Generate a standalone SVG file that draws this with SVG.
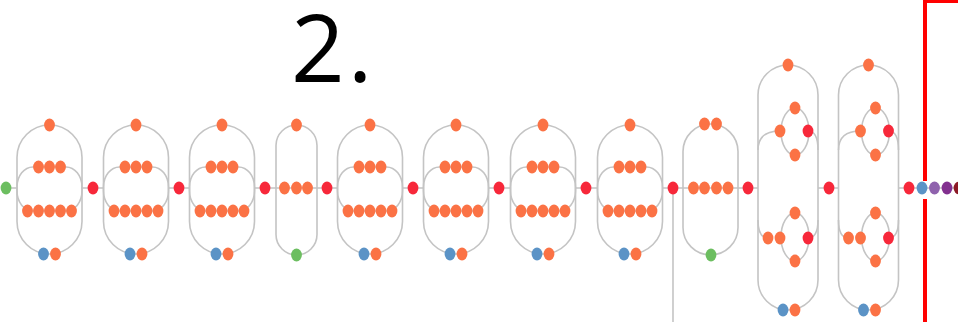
<svg xmlns="http://www.w3.org/2000/svg" width="958" height="322" viewBox="0 0 958 322">
  <style>
    .edge { fill: none; stroke: #c4c4c4; stroke-width: 1.6; }
    .frame { fill: none; stroke: #ff0000; stroke-width: 4; }
    .o { fill: #fb7245; }
    .r { fill: #f7283a; }
    .b { fill: #5b93c6; }
    .g { fill: #6cbe60; }
    .p1 { fill: #8f62ad; }
    .p2 { fill: #82308f; }
    .dr { fill: #8c1a26; }
    .o, .r, .b, .g, .p1, .p2, .dr { rx: 5.4px; ry: 6.4px; }
    .title { font-family: "Open Sans", "Noto Sans", "Liberation Sans", sans-serif; font-size: 94px; fill: #000; }
  </style>

  <text class="title" x="291" y="82" letter-spacing="3">2.</text>

  <!-- connectors -->
  <g id="connectors">
    <path class="edge" d="M6 188H17 M81 188H104 M168 188H190 M254 188H276 M276 188H317 M317 188H338 M402 188H424 M488 188H511 M575 188H598 M662 188H683 M683 188H738 M738 188H758 M818 188H839 M898 188H958"/>
    <path class="edge" d="M673 188V322"/>
  </g>

  <!-- block 1 -->
  <g id="block1" transform="translate(49.5,0)">
    <path class="edge" d="M-32.5 157.5A32.5 32.5 0 0 1 32.5 157.5V221.5A32.5 32.5 0 0 1 -32.5 221.5Z"/>
    <rect class="edge" x="-32.5" y="167" width="65" height="44" rx="16" ry="20"/>
    <ellipse class="o" cx="0" cy="125" rx="5" ry="6"/>
    <ellipse class="o" cx="-11" cy="167" rx="5" ry="6"/><ellipse class="o" cx="0" cy="167" rx="5" ry="6"/><ellipse class="o" cx="11" cy="167" rx="5" ry="6"/>
    <ellipse class="o" cx="-22" cy="211" rx="5" ry="6"/><ellipse class="o" cx="-11" cy="211" rx="5" ry="6"/><ellipse class="o" cx="0" cy="211" rx="5" ry="6"/><ellipse class="o" cx="11" cy="211" rx="5" ry="6"/><ellipse class="o" cx="22" cy="211" rx="5" ry="6"/>
    <ellipse class="b" cx="-6" cy="254" rx="5" ry="6"/><ellipse class="o" cx="6" cy="254" rx="5" ry="6"/>
  </g>

  <!-- block 2 -->
  <g id="block2" transform="translate(136,0)">
    <path class="edge" d="M-32.5 157.5A32.5 32.5 0 0 1 32.5 157.5V221.5A32.5 32.5 0 0 1 -32.5 221.5Z"/>
    <rect class="edge" x="-32.5" y="167" width="65" height="44" rx="16" ry="20"/>
    <ellipse class="o" cx="0" cy="125" rx="5" ry="6"/>
    <ellipse class="o" cx="-11" cy="167" rx="5" ry="6"/><ellipse class="o" cx="0" cy="167" rx="5" ry="6"/><ellipse class="o" cx="11" cy="167" rx="5" ry="6"/>
    <ellipse class="o" cx="-22" cy="211" rx="5" ry="6"/><ellipse class="o" cx="-11" cy="211" rx="5" ry="6"/><ellipse class="o" cx="0" cy="211" rx="5" ry="6"/><ellipse class="o" cx="11" cy="211" rx="5" ry="6"/><ellipse class="o" cx="22" cy="211" rx="5" ry="6"/>
    <ellipse class="b" cx="-6" cy="254" rx="5" ry="6"/><ellipse class="o" cx="6" cy="254" rx="5" ry="6"/>
  </g>

  <!-- block 3 -->
  <g id="block3" transform="translate(222,0)">
    <path class="edge" d="M-32.5 157.5A32.5 32.5 0 0 1 32.5 157.5V221.5A32.5 32.5 0 0 1 -32.5 221.5Z"/>
    <rect class="edge" x="-32.5" y="167" width="65" height="44" rx="16" ry="20"/>
    <ellipse class="o" cx="0" cy="125" rx="5" ry="6"/>
    <ellipse class="o" cx="-11" cy="167" rx="5" ry="6"/><ellipse class="o" cx="0" cy="167" rx="5" ry="6"/><ellipse class="o" cx="11" cy="167" rx="5" ry="6"/>
    <ellipse class="o" cx="-22" cy="211" rx="5" ry="6"/><ellipse class="o" cx="-11" cy="211" rx="5" ry="6"/><ellipse class="o" cx="0" cy="211" rx="5" ry="6"/><ellipse class="o" cx="11" cy="211" rx="5" ry="6"/><ellipse class="o" cx="22" cy="211" rx="5" ry="6"/>
    <ellipse class="b" cx="-6" cy="254" rx="5" ry="6"/><ellipse class="o" cx="6" cy="254" rx="5" ry="6"/>
  </g>

  <!-- block 4: narrow loop -->
  <g id="block4" transform="translate(296.5,0)">
    <path class="edge" d="M-20.5 145.5A20.5 20.5 0 0 1 20.5 145.5V234.5A20.5 20.5 0 0 1 -20.5 234.5Z"/>
    <ellipse class="o" cx="0" cy="125" rx="5" ry="6"/>
    <ellipse class="o" cx="-12" cy="188" rx="5" ry="6"/><ellipse class="o" cx="0" cy="188" rx="5" ry="6"/><ellipse class="o" cx="11" cy="188" rx="5" ry="6"/>
    <ellipse class="g" cx="0" cy="255" rx="5" ry="6"/>
  </g>

  <!-- block 5 -->
  <g id="block5" transform="translate(370,0)">
    <path class="edge" d="M-32.5 157.5A32.5 32.5 0 0 1 32.5 157.5V221.5A32.5 32.5 0 0 1 -32.5 221.5Z"/>
    <rect class="edge" x="-32.5" y="167" width="65" height="44" rx="16" ry="20"/>
    <ellipse class="o" cx="0" cy="125" rx="5" ry="6"/>
    <ellipse class="o" cx="-11" cy="167" rx="5" ry="6"/><ellipse class="o" cx="0" cy="167" rx="5" ry="6"/><ellipse class="o" cx="11" cy="167" rx="5" ry="6"/>
    <ellipse class="o" cx="-22" cy="211" rx="5" ry="6"/><ellipse class="o" cx="-11" cy="211" rx="5" ry="6"/><ellipse class="o" cx="0" cy="211" rx="5" ry="6"/><ellipse class="o" cx="11" cy="211" rx="5" ry="6"/><ellipse class="o" cx="22" cy="211" rx="5" ry="6"/>
    <ellipse class="b" cx="-6" cy="254" rx="5" ry="6"/><ellipse class="o" cx="6" cy="254" rx="5" ry="6"/>
  </g>

  <!-- block 6 -->
  <g id="block6" transform="translate(456,0)">
    <path class="edge" d="M-32.5 157.5A32.5 32.5 0 0 1 32.5 157.5V221.5A32.5 32.5 0 0 1 -32.5 221.5Z"/>
    <rect class="edge" x="-32.5" y="167" width="65" height="44" rx="16" ry="20"/>
    <ellipse class="o" cx="0" cy="125" rx="5" ry="6"/>
    <ellipse class="o" cx="-11" cy="167" rx="5" ry="6"/><ellipse class="o" cx="0" cy="167" rx="5" ry="6"/><ellipse class="o" cx="11" cy="167" rx="5" ry="6"/>
    <ellipse class="o" cx="-22" cy="211" rx="5" ry="6"/><ellipse class="o" cx="-11" cy="211" rx="5" ry="6"/><ellipse class="o" cx="0" cy="211" rx="5" ry="6"/><ellipse class="o" cx="11" cy="211" rx="5" ry="6"/><ellipse class="o" cx="22" cy="211" rx="5" ry="6"/>
    <ellipse class="b" cx="-6" cy="254" rx="5" ry="6"/><ellipse class="o" cx="6" cy="254" rx="5" ry="6"/>
  </g>

  <!-- block 7 -->
  <g id="block7" transform="translate(543,0)">
    <path class="edge" d="M-32.5 157.5A32.5 32.5 0 0 1 32.5 157.5V221.5A32.5 32.5 0 0 1 -32.5 221.5Z"/>
    <rect class="edge" x="-32.5" y="167" width="65" height="44" rx="16" ry="20"/>
    <ellipse class="o" cx="0" cy="125" rx="5" ry="6"/>
    <ellipse class="o" cx="-11" cy="167" rx="5" ry="6"/><ellipse class="o" cx="0" cy="167" rx="5" ry="6"/><ellipse class="o" cx="11" cy="167" rx="5" ry="6"/>
    <ellipse class="o" cx="-22" cy="211" rx="5" ry="6"/><ellipse class="o" cx="-11" cy="211" rx="5" ry="6"/><ellipse class="o" cx="0" cy="211" rx="5" ry="6"/><ellipse class="o" cx="11" cy="211" rx="5" ry="6"/><ellipse class="o" cx="22" cy="211" rx="5" ry="6"/>
    <ellipse class="b" cx="-6" cy="254" rx="5" ry="6"/><ellipse class="o" cx="6" cy="254" rx="5" ry="6"/>
  </g>

  <!-- block 8 -->
  <g id="block8" transform="translate(630,0)">
    <path class="edge" d="M-32.5 157.5A32.5 32.5 0 0 1 32.5 157.5V221.5A32.5 32.5 0 0 1 -32.5 221.5Z"/>
    <rect class="edge" x="-32.5" y="167" width="65" height="44" rx="16" ry="20"/>
    <ellipse class="o" cx="0" cy="125" rx="5" ry="6"/>
    <ellipse class="o" cx="-11" cy="167" rx="5" ry="6"/><ellipse class="o" cx="0" cy="167" rx="5" ry="6"/><ellipse class="o" cx="11" cy="167" rx="5" ry="6"/>
    <ellipse class="o" cx="-22" cy="211" rx="5" ry="6"/><ellipse class="o" cx="-11" cy="211" rx="5" ry="6"/><ellipse class="o" cx="0" cy="211" rx="5" ry="6"/><ellipse class="o" cx="11" cy="211" rx="5" ry="6"/><ellipse class="o" cx="22" cy="211" rx="5" ry="6"/>
    <ellipse class="b" cx="-6" cy="254" rx="5" ry="6"/><ellipse class="o" cx="6" cy="254" rx="5" ry="6"/>
  </g>

  <!-- block 9 -->
  <g id="block9" transform="translate(710.5,0)">
    <path class="edge" d="M-27.5 151.5A27.5 27.5 0 0 1 27.5 151.5V227.5A27.5 27.5 0 0 1 -27.5 227.5Z"/>
    <ellipse class="o" cx="-6" cy="124" rx="5" ry="6"/><ellipse class="o" cx="6" cy="124" rx="5" ry="6"/>
    <ellipse class="o" cx="-17" cy="188" rx="5" ry="6"/><ellipse class="o" cx="-6" cy="188" rx="5" ry="6"/><ellipse class="o" cx="6" cy="188" rx="5" ry="6"/><ellipse class="o" cx="17.5" cy="188" rx="5" ry="6"/>
    <ellipse class="g" cx="0.5" cy="255" rx="5" ry="6"/>
  </g>

  <!-- block 10: tall loop with two rings -->
  <g id="block10" transform="translate(788,0)">
    <path class="edge" d="M-30 95A30 30 0 0 1 30 95V280A30 30 0 0 1 -30 280Z"/>
    <path class="edge" d="M-30 150Q-30 131 -8 131 M20 131Q30 131 30 150"/>
    <ellipse class="edge" cx="7" cy="131.5" rx="14" ry="23.5"/>
    <path class="edge" d="M-30 220Q-30 238 -20 238 M20 238Q30 238 30 220"/>
    <ellipse class="edge" cx="7" cy="237" rx="14" ry="24"/>
    <ellipse class="o" cx="0" cy="65" rx="5" ry="6"/>
    <ellipse class="o" cx="7" cy="108" rx="5" ry="6"/>
    <ellipse class="o" cx="-8" cy="131" rx="5" ry="6"/><ellipse class="r" cx="20" cy="131" rx="5" ry="6"/>
    <ellipse class="o" cx="7" cy="155" rx="5" ry="6"/>
    <ellipse class="o" cx="7" cy="213" rx="5" ry="6"/>
    <ellipse class="o" cx="-20" cy="238" rx="5" ry="6"/><ellipse class="o" cx="-8" cy="238" rx="5" ry="6"/><ellipse class="r" cx="20" cy="238" rx="5" ry="6"/>
    <ellipse class="o" cx="7" cy="261" rx="5" ry="6"/>
    <ellipse class="b" cx="-5" cy="310" rx="5" ry="6"/><ellipse class="o" cx="7" cy="310" rx="5" ry="6"/>
  </g>

  <!-- block 11 -->
  <g id="block11" transform="translate(868.5,0)">
    <path class="edge" d="M-30 95A30 30 0 0 1 30 95V280A30 30 0 0 1 -30 280Z"/>
    <path class="edge" d="M-30 150Q-30 131 -8 131 M20 131Q30 131 30 150"/>
    <ellipse class="edge" cx="7" cy="131.5" rx="14" ry="23.5"/>
    <path class="edge" d="M-30 220Q-30 238 -20 238 M20 238Q30 238 30 220"/>
    <ellipse class="edge" cx="7" cy="237" rx="14" ry="24"/>
    <ellipse class="o" cx="0" cy="65" rx="5" ry="6"/>
    <ellipse class="o" cx="7" cy="108" rx="5" ry="6"/>
    <ellipse class="o" cx="-8" cy="131" rx="5" ry="6"/><ellipse class="r" cx="20" cy="131" rx="5" ry="6"/>
    <ellipse class="o" cx="7" cy="155" rx="5" ry="6"/>
    <ellipse class="o" cx="7" cy="213" rx="5" ry="6"/>
    <ellipse class="o" cx="-20" cy="238" rx="5" ry="6"/><ellipse class="o" cx="-8" cy="238" rx="5" ry="6"/><ellipse class="r" cx="20" cy="238" rx="5" ry="6"/>
    <ellipse class="o" cx="7" cy="261" rx="5" ry="6"/>
    <ellipse class="b" cx="-5" cy="310" rx="5" ry="6"/><ellipse class="o" cx="7" cy="310" rx="5" ry="6"/>
  </g>

  <!-- backbone nodes between the loops -->
  <g id="backbone">
    <ellipse class="g" cx="6" cy="188" rx="4.5" ry="6"/>
    <ellipse class="r" cx="93" cy="188" rx="5" ry="6"/>
    <ellipse class="r" cx="179" cy="188" rx="5" ry="6"/>
    <ellipse class="r" cx="265" cy="188" rx="5" ry="6"/>
    <ellipse class="r" cx="327" cy="188" rx="5" ry="6"/>
    <ellipse class="r" cx="413" cy="188" rx="5" ry="6"/>
    <ellipse class="r" cx="499" cy="188" rx="5" ry="6"/>
    <ellipse class="r" cx="586" cy="188" rx="5" ry="6"/>
    <ellipse class="r" cx="673" cy="188" rx="5" ry="6"/>
    <ellipse class="r" cx="748" cy="188" rx="5" ry="6"/>
    <ellipse class="r" cx="829" cy="188" rx="5" ry="6"/>
    <ellipse class="r" cx="909" cy="188" rx="5" ry="6"/>
    <ellipse class="b" cx="922" cy="188" rx="5" ry="6"/>
    <ellipse class="p1" cx="934.5" cy="188" rx="5" ry="6"/>
    <ellipse class="p2" cx="947" cy="188" rx="5" ry="6"/>
    <ellipse class="dr" cx="959" cy="188" rx="5" ry="6"/>
  </g>

  <!-- highlight frame on the right -->
  <g id="frame">
    <path class="frame" d="M925 181V1H962 M925 199V324"/>
  </g>
</svg>
